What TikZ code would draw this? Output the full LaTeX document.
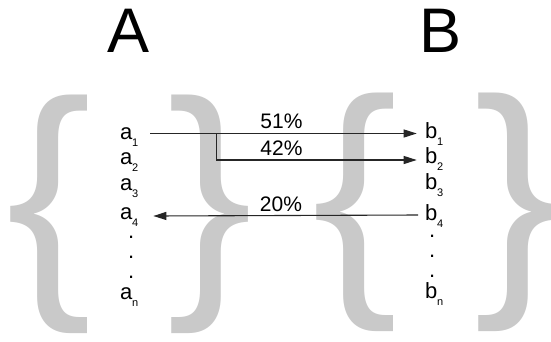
\documentclass[tikz,border=0pt]{standalone}
\usepackage{fontspec}
\setmainfont{Liberation Sans}
\usetikzlibrary{arrows.meta}
\definecolor{braceg}{RGB}{201,201,201}
\newcommand{\mysub}[1]{\raisebox{-7.5pt}{\fontsize{11}{13}\selectfont #1}}
\tikzset{
  bracetxt/.style={inner sep=0pt, outer sep=0pt, text=braceg, font=\fontsize{256}{256}\selectfont, anchor=north west},
  item/.style={inner sep=0pt, outer sep=0pt, anchor=base west, font=\fontsize{22}{24}\selectfont},
  pct/.style={inner sep=0pt, anchor=base, font=\fontsize{21}{24}\selectfont},
  ttl/.style={inner sep=0pt, anchor=base, font=\fontsize{63}{70}\selectfont},
  conn/.style={line width=1.1pt, draw=black!85, -{Triangle[length=13pt,width=8pt]}},
  seg/.style={line width=1.1pt, draw=black!85}
}
\begin{document}
\begin{tikzpicture}[x=1pt,y=-1pt]
\useasboundingbox[fill=white] (0,0) rectangle (551,341);
% braces
\node[bracetxt] (br1) at (6,95) {\{};
\node[bracetxt] (br2) at (167,95) {\}};
\node[bracetxt] (br3) at (312,93) {\{};
\node[bracetxt] (br4) at (474,93) {\}};
% titles
\node[ttl] (tA) at (129,52) {A};
\node[ttl] (tB) at (440.5,52) {B};
% a column
\node[item] (a1) at (120,139) {a\mysub{1}};
\node[item] (a2) at (120,164) {a\mysub{2}};
\node[item] (a3) at (120,190) {a\mysub{3}};
\node[item] (a4) at (120,219) {a\mysub{4}};
\node[item] (ad1) at (128,238) {.};
\node[item] (ad2) at (128,258) {.};
\node[item] (ad3) at (128,278) {.};
\node[item] (an) at (120,299) {a\mysub{n}};
% b column
\node[item] (b1) at (425,138) {b\mysub{1}};
\node[item] (b2) at (425,163) {b\mysub{2}};
\node[item] (b3) at (425,189) {b\mysub{3}};
\node[item] (b4) at (425,220) {b\mysub{4}};
\node[item] (bd1) at (429,237) {.};
\node[item] (bd2) at (429,257) {.};
\node[item] (bd3) at (429,277) {.};
\node[item] (bn) at (425,298) {b\mysub{n}};
% percentages
\node[pct] (p51) at (281.5,128.3) {51\%};
\node[pct] (p42) at (281.5,155) {42\%};
\node[pct] (p20) at (281,211.7) {20\%};
% connectors
\coordinate (j) at (216.7,133.5);
\draw[conn] ([xshift=11.7pt,yshift=5.5pt]a1.base east) -- ([xshift=-8.3pt,yshift=4.5pt]b1.base west);
\draw[conn] (j) |- ([xshift=-8.3pt,yshift=3pt]b2.base west);
\draw[conn] ([xshift=-7pt,yshift=5pt]b4.base west) -- ([xshift=15pt,yshift=3pt]a4.base east);
\end{tikzpicture}
\end{document}
